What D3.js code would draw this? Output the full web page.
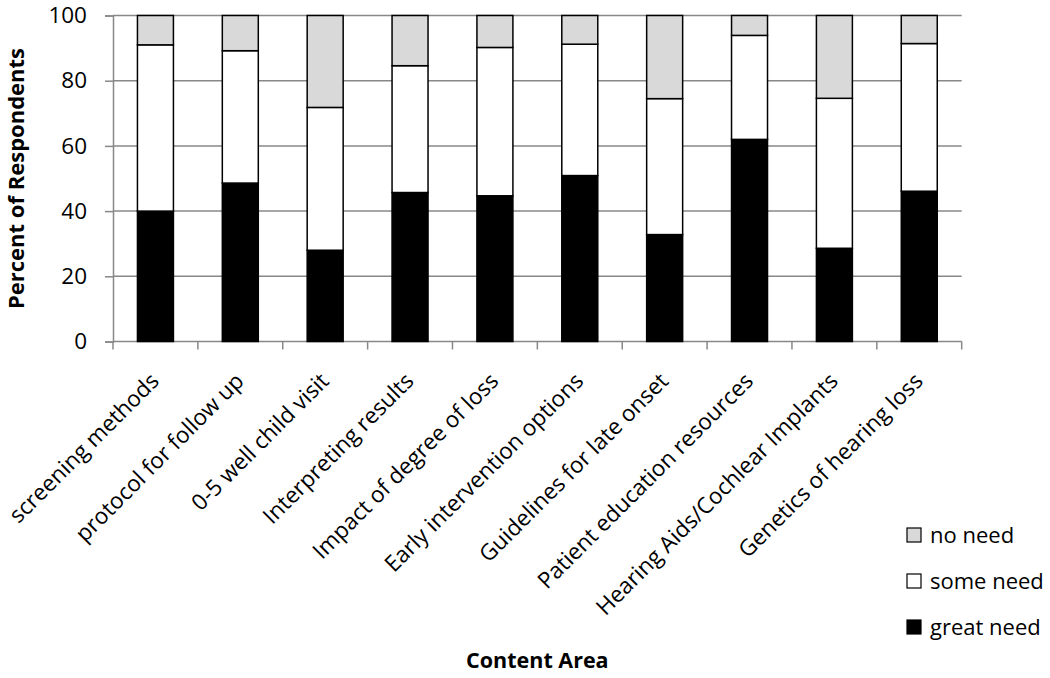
<!DOCTYPE html>
<html>
<head>
<meta charset="utf-8">
<script src="https://cdn.jsdelivr.net/npm/d3@7"></script>
<style>
  body { margin: 0; background: #fff; }
  svg { font-family: "Open Sans", sans-serif; }
</style>
</head>
<body>
<svg id="chart" width="1050" height="678"></svg>
<script>
var categories = ['screening methods', 'protocol for follow up', '0-5 well child visit',
    'Interpreting results', 'Impact of degree of loss', 'Early intervention options',
    'Guidelines for late onset', 'Patient education resources',
    'Hearing Aids/Cochlear Implants', 'Genetics of hearing loss'];
var greatNeed = [40, 48.6, 28, 45.7, 44.7, 50.9, 32.8, 62, 28.6, 46.1];
var someNeed  = [51, 40.6, 43.8, 38.9, 45.5, 40.3, 41.7, 31.9, 46, 45.3];
var noNeed    = [9, 10.8, 28.2, 15.4, 9.8, 8.8, 25.5, 6.1, 25.4, 8.6];
var yTicks = [0, 20, 40, 60, 80, 100];

var seriesNames = ['great need', 'some need', 'no need'],
    seriesColors = ['#000000', '#ffffff', '#d9d9d9'],
    gridColor = '#888888';

var margin = { top: 15.5, left: 113, right: 88.3, bottom: 336.5 },
    width = 1050 - margin.left - margin.right,
    height = 678 - margin.top - margin.bottom;

var rows = categories.map(function (c, i) {
    return { cat: c, 'great need': greatNeed[i], 'some need': someNeed[i], 'no need': noNeed[i] };
});
var stacked = d3.stack().keys(seriesNames)(rows);

var svg = d3.select('#chart'),
    g = svg.append('g').attr('transform', 'translate(' + margin.left + ',' + margin.top + ')');

var x = d3.scaleBand().domain(categories).range([0, width]).paddingInner(0.576).paddingOuter(0.288);
var y = d3.scaleLinear().domain([0, 100]).range([height, 0]);
var color = d3.scaleOrdinal().domain(seriesNames).range(seriesColors);

// y axis + gridlines
var yAxis = g.append('g')
    .call(d3.axisLeft(y).tickValues(yTicks).tickSize(8).tickPadding(18));
yAxis.select('.domain').attr('stroke', gridColor).attr('stroke-width', 1.5);
yAxis.selectAll('.tick line').attr('stroke', gridColor).attr('stroke-width', 1.5);
yAxis.selectAll('.tick text').attr('font-size', 22.5).attr('fill', '#000')
    .attr('font-family', '"Open Sans", sans-serif');

g.append('g').attr('class', 'grid')
    .selectAll('line')
    .data(yTicks.filter(function (d) { return d > 0; }))
    .join('line')
    .attr('x1', 0).attr('x2', width)
    .attr('y1', function (d) { return y(d); })
    .attr('y2', function (d) { return y(d); })
    .attr('stroke', gridColor).attr('stroke-width', 1.5);

// x axis line, ticks between the bands
var bounds = d3.range(categories.length + 1).map(function (i) { return i * x.step(); });
var xAxis = g.append('g').attr('transform', 'translate(0,' + height + ')');
xAxis.append('line')
    .attr('x1', 0).attr('x2', width)
    .attr('stroke', gridColor).attr('stroke-width', 1.5);
xAxis.selectAll('.xtick')
    .data(bounds)
    .join('line')
    .attr('class', 'xtick')
    .attr('x1', function (d) { return d; }).attr('x2', function (d) { return d; })
    .attr('y1', 0).attr('y2', 8)
    .attr('stroke', gridColor).attr('stroke-width', 1.5);

// stacked bars
g.append('g')
    .selectAll('g')
    .data(stacked)
    .join('g')
    .attr('fill', function (d) { return color(d.key); })
    .selectAll('rect')
    .data(function (d) { return d; })
    .join('rect')
    .attr('x', function (d) { return x(d.data.cat); })
    .attr('y', function (d) { return y(d[1]); })
    .attr('width', x.bandwidth())
    .attr('height', function (d) { return y(d[0]) - y(d[1]); })
    .attr('stroke', '#000')
    .attr('stroke-width', 1.5);

// rotated category labels
g.append('g')
    .selectAll('text')
    .data(categories)
    .join('text')
    .attr('transform', function (d) {
        return 'translate(' + (x(d) + x.bandwidth() / 2 + 5) + ',' + (height + 41) + ') rotate(-45)';
    })
    .attr('text-anchor', 'end')
    .attr('font-size', 22.5)
    .attr('fill', '#000')
    .text(function (d) { return d; });

// axis titles
svg.append('text')
    .attr('transform', 'translate(24,' + (margin.top + height / 2) + ') rotate(-90)')
    .attr('text-anchor', 'middle')
    .attr('font-size', 22)
    .attr('font-weight', 'bold')
    .text('Percent of Respondents');

svg.append('text')
    .attr('x', margin.left + width / 2)
    .attr('y', 668)
    .attr('text-anchor', 'middle')
    .attr('font-size', 21.5)
    .attr('font-weight', 'bold')
    .text('Content Area');

// legend
var legend = svg.append('g')
    .attr('class', 'legend')
    .attr('transform', 'translate(907,528)');

var items = legend.selectAll('g')
    .data(seriesNames.slice().reverse())
    .join('g')
    .attr('transform', function (d, i) { return 'translate(0,' + i * 46 + ')'; });

items.append('rect')
    .attr('width', 14).attr('height', 14)
    .attr('fill', function (d) { return color(d); })
    .attr('stroke', '#000').attr('stroke-width', 1.2);

items.append('text')
    .attr('x', 23).attr('y', 15)
    .attr('font-size', 22)
    .attr('fill', '#000')
    .text(function (d) { return d; });
</script>
</body>
</html>
